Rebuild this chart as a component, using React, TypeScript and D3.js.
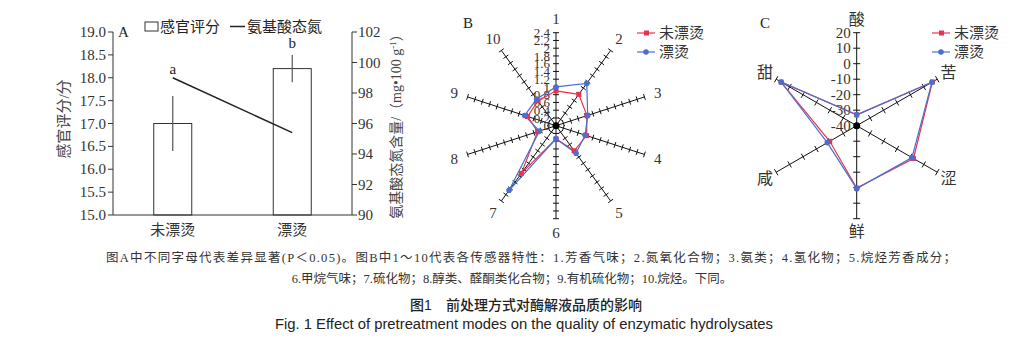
import React from "react";
import * as d3 from "d3";

// ---------- Data ----------
const categoriesA = ["未漂烫", "漂烫"];
const sensoryScore = [17.0, 18.2];
const sensoryErr = [0.6, 0.3];
const aminoN = [99.0, 95.4];
const sigLetters = ["a", "b"];
const leftTicks = [15.0, 15.5, 16.0, 16.5, 17.0, 17.5, 18.0, 18.5, 19.0];
const rightTicks = [90, 92, 94, 96, 98, 100, 102];

const sensorLabels = ["1", "2", "3", "4", "5", "6", "7", "8", "9", "10"];
const sensorUnblanched = [0.9, 1.0, 0.84, 0.83, 0.8, 0.34, 1.52, 0.5, 0.77, 0.79];
const sensorBlanched = [1.0, 1.35, 0.86, 0.79, 0.88, 0.34, 2.06, 0.45, 0.85, 0.85];
const sensorTicks = [0, 0.2, 0.4, 0.6, 0.8, 1.0, 1.2, 1.4, 1.6, 1.8, 2.0, 2.2, 2.4];

const tasteLabels = ["酸", "苦", "涩", "鲜", "咸", "甜"];
const tasteUnblanched = [-33, 16.4, 2.3, 0.2, -19.9, 16.3];
const tasteBlanched = [-33, 16.0, 1.2, 0.6, -18.1, 16.3];
const tasteTicks = [-40, -30, -20, -10, 0, 10, 20];

const seriesNames = ["未漂烫", "漂烫"];

const captionLine1 =
  "图A中不同字母代表差异显著(P＜0.05)。图B中1～10代表各传感器特性：1.芳香气味；2.氮氧化合物；3.氨类；4.氢化物；5.烷烃芳香成分；";
const captionLine2 = "6.甲烷气味；7.硫化物；8.醇类、醛酮类化合物；9.有机硫化物；10.烷烃。下同。";
const titleCn = "图1　前处理方式对酶解液品质的影响";
const titleEn = "Fig. 1 Effect of pretreatment modes on the quality of enzymatic hydrolysates";

// ---------- Style ----------
const SERIF = "'Liberation Serif', 'Noto Sans CJK SC', serif";
const SANS = "'Liberation Sans', 'Noto Sans CJK SC', sans-serif";
const RED = "#e8334f";
const BLUE = "#4a6fd1";
const INK = "#222";

function polar(cx: number, cy: number, angDeg: number, r: number): [number, number] {
  const a = (angDeg * Math.PI) / 180;
  return [cx + r * Math.sin(a), cy - r * Math.cos(a)];
}

function PanelA() {
  const x0 = 113, x1 = 352, yTop = 32, yBot = 215;
  const yL = d3.scaleLinear().domain([15, 19]).range([yBot, yTop]);
  const yR = d3.scaleLinear().domain([90, 102]).range([yBot, yTop]);
  const xA = d3.scalePoint<string>().domain(categoriesA).range([x0, x1]).padding(0.5);
  const bw = 38;
  const line = d3
    .line<number>()
    .x((_, i) => xA(categoriesA[i]) as number)
    .y((d) => yR(d));
  return (
    <g>
      {categoriesA.map((c, i) => (
        <rect
          key={c}
          x={(xA(c) as number) - bw / 2}
          y={yL(sensoryScore[i])}
          width={bw}
          height={yBot - yL(sensoryScore[i])}
          fill="#fff"
          stroke="#333"
          strokeWidth={1}
        />
      ))}
      {categoriesA.map((c, i) => (
        <line
          key={"e" + c}
          x1={xA(c)}
          x2={xA(c)}
          y1={yL(sensoryScore[i] - sensoryErr[i])}
          y2={yL(sensoryScore[i] + sensoryErr[i])}
          stroke="#555"
          strokeWidth={1.2}
        />
      ))}
      <path d={line(aminoN) || ""} fill="none" stroke={INK} strokeWidth={1.5} />
      {categoriesA.map((c, i) => (
        <text
          key={"s" + c}
          x={xA(c)}
          y={yL(sensoryScore[i] + sensoryErr[i]) - (i === 0 ? 22 : 7)}
          textAnchor="middle"
          fontFamily={SERIF}
          fontSize={15}
          fill={INK}
        >
          {sigLetters[i]}
        </text>
      ))}
      <line x1={x0} x2={x0} y1={yTop} y2={yBot} stroke="#333" />
      <line x1={x1} x2={x1} y1={yTop} y2={yBot} stroke="#333" />
      <line x1={x0} x2={x1} y1={yBot} y2={yBot} stroke="#333" />
      {leftTicks.map((t) => (
        <g key={"l" + t}>
          <line x1={x0 - 5} x2={x0} y1={yL(t)} y2={yL(t)} stroke="#333" />
          <text x={x0 - 7} y={yL(t) + 5} textAnchor="end" fontFamily={SERIF} fontSize={15} fill="#333">
            {t.toFixed(1)}
          </text>
        </g>
      ))}
      {rightTicks.map((t) => (
        <g key={"r" + t}>
          <line x1={x1} x2={x1 + 5} y1={yR(t)} y2={yR(t)} stroke="#333" />
          <text x={x1 + 6} y={yR(t) + 5} textAnchor="start" fontFamily={SERIF} fontSize={15} fill="#333">
            {t}
          </text>
        </g>
      ))}
      {categoriesA.map((c) => (
        <text key={"c" + c} x={xA(c)} y={235} textAnchor="middle" fontFamily={SERIF} fontSize={15} fill="#333">
          {c}
        </text>
      ))}
      <text
        transform={`translate(69,119) rotate(-90)`}
        textAnchor="middle"
        fontFamily={SERIF}
        fontSize={15}
        fill="#444"
      >
        感官评分/分
      </text>
      <text
        transform={`translate(401,123) rotate(-90)`}
        textAnchor="middle"
        fontFamily={SERIF}
        fontSize={14}
        fill="#444"
      >
        氨基酸态氮含量/（mg•100 g
        <tspan dy={-5} fontSize={9}>-1</tspan>
        <tspan dy={5}>）</tspan>
      </text>
      <text x={118} y={37} fontFamily={SERIF} fontSize={15} fill={INK}>
        A
      </text>
      <rect x={145} y={22} width={13} height={9} fill="#fff" stroke="#333" />
      <text x={160} y={32} fontFamily={SERIF} fontSize={15} fill={INK}>
        感官评分
      </text>
      <line x1={230} x2={245} y1={26.5} y2={26.5} stroke={INK} strokeWidth={1.5} />
      <text x={247} y={32} fontFamily={SERIF} fontSize={15} fill={INK}>
        氨基酸态氮
      </text>
    </g>
  );
}

function Legend({ x, y }: { x: number; y: number }) {
  return (
    <g>
      {seriesNames.map((n, i) => (
        <g key={n} transform={`translate(${x},${y + i * 19})`}>
          <line x1={0} x2={18} y1={0} y2={0} stroke={i === 0 ? RED : BLUE} strokeWidth={1.2} />
          {i === 0 ? (
            <rect x={7} y={-2.5} width={5} height={5} fill={RED} />
          ) : (
            <circle cx={9} cy={0} r={2.8} fill={BLUE} />
          )}
          <text x={22} y={5} fontFamily={SERIF} fontSize={15} fill="#333">
            {n}
          </text>
        </g>
      ))}
    </g>
  );
}

function Radar({
  cx,
  cy,
  R,
  labels,
  domain,
  ticks,
  s1,
  s2,
  tickLabelSize,
  labelR,
  labelSize,
  tickHalf,
}: {
  cx: number;
  cy: number;
  R: number;
  labels: string[];
  domain: [number, number];
  ticks: number[];
  s1: number[];
  s2: number[];
  tickLabelSize: number;
  labelR: number;
  labelSize: number;
  tickHalf: number;
}) {
  const n = labels.length;
  const r = d3.scaleLinear().domain(domain).range([0, R]);
  const ang = (i: number) => (360 / n) * i;
  const pathFor = (vals: number[]) => {
    const pts = vals.map((v, i) => polar(cx, cy, ang(i), r(v)));
    return d3.line().curve(d3.curveLinearClosed)(pts as [number, number][]) || "";
  };
  const tickVals = ticks.filter((t) => t !== domain[0]);
  return (
    <g>
      {labels.map((l, i) => {
        const [ex, ey] = polar(cx, cy, ang(i), R);
        const a = (ang(i) * Math.PI) / 180;
        const px = Math.cos(a), py = Math.sin(a);
        return (
          <g key={"ax" + l}>
            <line x1={cx} y1={cy} x2={ex} y2={ey} stroke="#111" strokeWidth={1} />
            {tickVals.map((t) => {
              const [tx, ty] = polar(cx, cy, ang(i), r(t));
              return (
                <line
                  key={t}
                  x1={tx - px * tickHalf}
                  y1={ty - py * tickHalf}
                  x2={tx + px * tickHalf}
                  y2={ty + py * tickHalf}
                  stroke="#111"
                  strokeWidth={1}
                />
              );
            })}
          </g>
        );
      })}
      {ticks.map((t) => (
        <text
          key={"tl" + t}
          x={cx - 6}
          y={cy - r(t) + tickLabelSize * 0.35}
          textAnchor="end"
          fontFamily={SERIF}
          fontSize={tickLabelSize}
          fill="#333"
        >
          {t}
        </text>
      ))}
      <path d={pathFor(s1)} fill="none" stroke={RED} strokeWidth={1.2} />
      <path d={pathFor(s2)} fill="none" stroke={BLUE} strokeWidth={1.2} />
      {s1.map((v, i) => {
        const [x, y] = polar(cx, cy, ang(i), r(v));
        return <rect key={"p1" + i} x={x - 2.5} y={y - 2.5} width={5} height={5} fill={RED} />;
      })}
      {s2.map((v, i) => {
        const [x, y] = polar(cx, cy, ang(i), r(v));
        return <circle key={"p2" + i} cx={x} cy={y} r={2.8} fill={BLUE} />;
      })}
      <circle cx={cx} cy={cy} r={3.5} fill="#000" />
      {labels.map((l, i) => {
        const [lx, ly] = polar(cx, cy, ang(i), labelR);
        return (
          <text
            key={"lb" + l}
            x={lx}
            y={ly + labelSize * 0.35}
            textAnchor="middle"
            fontFamily={SERIF}
            fontSize={labelSize}
            fill="#333"
          >
            {l}
          </text>
        );
      })}
    </g>
  );
}

export default function App() {
  return (
    <svg
      width={1028}
      height={358}
      style={{ position: "absolute", left: 0, top: 0, background: "#fff" }}
    >
      <rect width={1028} height={358} fill="#fff" />
      <PanelA />
      <text x={463} y={28} fontFamily={SERIF} fontSize={15} fill={INK}>
        B
      </text>
      <Radar
        cx={556}
        cy={125.7}
        R={93}
        labels={sensorLabels}
        domain={[0, 2.4]}
        ticks={sensorTicks}
        s1={sensorUnblanched}
        s2={sensorBlanched}
        tickLabelSize={13}
        labelR={107}
        labelSize={15}
        tickHalf={3}
      />
      <Legend x={637} y={33} />
      <text x={760} y={28} fontFamily={SERIF} fontSize={15} fill={INK}>
        C
      </text>
      <Radar
        cx={856.7}
        cy={125.7}
        R={93}
        labels={tasteLabels}
        domain={[-40, 20]}
        ticks={tasteTicks}
        s1={tasteUnblanched}
        s2={tasteBlanched}
        tickLabelSize={15}
        labelR={106}
        labelSize={16}
        tickHalf={3.5}
      />
      <Legend x={932} y={33} />
      <text
        x={106}
        y={262}
        fontFamily={SERIF}
        fontSize={12.5}
        fill="#333"
        textLength={850}
        lengthAdjust="spacing"
      >
        {captionLine1}
      </text>
      <text x={512} y={283} textAnchor="middle" fontFamily={SERIF} fontSize={12.5} fill="#333">
        {captionLine2}
      </text>
      <text x={526} y={310} textAnchor="middle" fontFamily={SANS} fontSize={14} fontWeight={500} fill="#222">
        {titleCn}
      </text>
      <text
        x={524}
        y={329}
        textAnchor="middle"
        fontFamily={SANS}
        fontSize={14}
        fill="#222"
        textLength={498}
        lengthAdjust="spacingAndGlyphs"
      >
        {titleEn}
      </text>
    </svg>
  );
}
